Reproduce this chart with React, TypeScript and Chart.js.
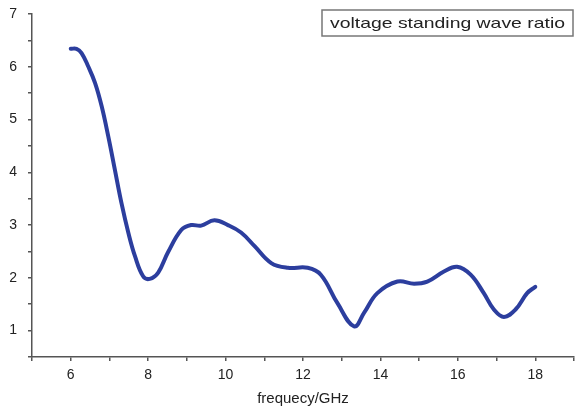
import React, { useEffect, useRef } from 'react';
import { Chart, registerables } from 'chart.js';

Chart.register(...registerables);

const frequency = [6.0, 6.15, 6.28, 6.45, 6.63, 6.8, 6.97, 7.14, 7.31, 7.49, 7.66, 7.87, 8.04, 8.26, 8.51, 8.86, 9.11, 9.37, 9.71, 10.06, 10.4, 10.75, 11.18, 11.61, 12.12, 12.46, 12.89, 13.32, 13.58, 13.92, 14.44, 14.87, 15.21, 15.64, 15.98, 16.33, 16.67, 16.93, 17.19, 17.49, 17.79, 18.0];
const vswr = [6.34, 6.34, 6.26, 6.01, 5.69, 5.25, 4.68, 4.05, 3.42, 2.85, 2.41, 2.03, 1.98, 2.1, 2.48, 2.91, 3.0, 2.99, 3.09, 3.0, 2.86, 2.6, 2.28, 2.19, 2.19, 2.06, 1.52, 1.08, 1.34, 1.71, 1.93, 1.89, 1.93, 2.12, 2.21, 2.06, 1.71, 1.4, 1.26, 1.4, 1.71, 1.83];
const xTickLabels = [6, 8, 10, 12, 14, 16, 18];
const yTickLabels = [1, 2, 3, 4, 5, 6, 7];
const seriesLabel = 'voltage standing wave ratio';
const xAxisTitle = 'frequecy/GHz';

const legendBoxPlugin = {
  id: 'legendBox',
  afterDraw(chart: any) {
    const ctx = chart.ctx;
    const area = chart.chartArea;
    ctx.save();
    ctx.font = '15px "Liberation Sans", Arial, sans-serif';
    const targetW = 235;
    const w = ctx.measureText(seriesLabel).width;
    const sx = targetW / w;
    const boxW = 251;
    const boxH = 26;
    const right = area.right - 1;
    const left = right - boxW;
    const top = 10;
    ctx.strokeStyle = '#777';
    ctx.lineWidth = 1.5;
    ctx.strokeRect(left, top, boxW, boxH);
    ctx.fillStyle = '#222';
    ctx.textBaseline = 'middle';
    ctx.translate(left + (boxW - targetW) / 2, top + boxH / 2 + 1);
    ctx.scale(sx, 1);
    ctx.fillText(seriesLabel, 0, 0);
    ctx.restore();
  },
};

export default function App() {
  const ref = useRef<HTMLCanvasElement | null>(null);
  useEffect(() => {
    if (!ref.current) return;
    const points = frequency.map((f, i) => ({ x: f, y: vswr[i] }));
    const font = { family: '"Liberation Sans", Arial, sans-serif', size: 14 };
    const chart = new Chart(ref.current, {
      type: 'line',
      data: {
        datasets: [
          {
            label: seriesLabel,
            data: points,
            borderColor: '#2c3e9e',
            borderWidth: 4,
            pointRadius: 0,
            tension: 0.4,
            borderCapStyle: 'round',
            borderJoinStyle: 'round',
            fill: false,
          },
        ],
      },
      options: {
        animation: false,
        responsive: true,
        maintainAspectRatio: false,
        layout: { padding: { top: 14, right: 1, left: 0, bottom: 3 } },
        plugins: { legend: { display: false }, tooltip: { enabled: false } },
        scales: {
          x: {
            type: 'linear',
            min: 5,
            max: 19,
            afterFit: (s: any) => { s.height = 51; s.paddingLeft = 0; s.paddingRight = 0; },
            ticks: {
              stepSize: 1,
              color: '#222',
              font,
              padding: 6,
              maxRotation: 0,
              autoSkip: false,
              callback: (v: any) => (xTickLabels.includes(Number(v)) ? String(v) : ''),
            },
            grid: { drawOnChartArea: false, drawTicks: true, tickLength: 4, color: '#555', lineWidth: 1.5 },
            border: { display: true, color: '#555', width: 1.5 },
            title: { display: true, text: xAxisTitle, color: '#222', font: { family: font.family, size: 15 }, padding: { top: 0, bottom: 0 } },
          },
          y: {
            min: 0.5,
            max: 7,
            afterFit: (s: any) => { s.width = 32; s.paddingTop = 0; s.paddingBottom = 0; },
            ticks: {
              stepSize: 0.5,
              color: '#222',
              font,
              padding: 11,
              autoSkip: false,
              callback: (v: any) => (yTickLabels.includes(Number(v)) ? String(v) : ''),
            },
            grid: { drawOnChartArea: false, drawTicks: true, tickLength: 4, color: '#555', lineWidth: 1.5 },
            border: { display: true, color: '#555', width: 1.5 },
          },
        },
      },
      plugins: [legendBoxPlugin],
    } as any);
    return () => chart.destroy();
  }, []);
  return (
    <div style={{ position: 'absolute', left: 0, top: 0, width: 575, height: 411, background: '#fff' }}>
      <canvas ref={ref} />
    </div>
  );
}
